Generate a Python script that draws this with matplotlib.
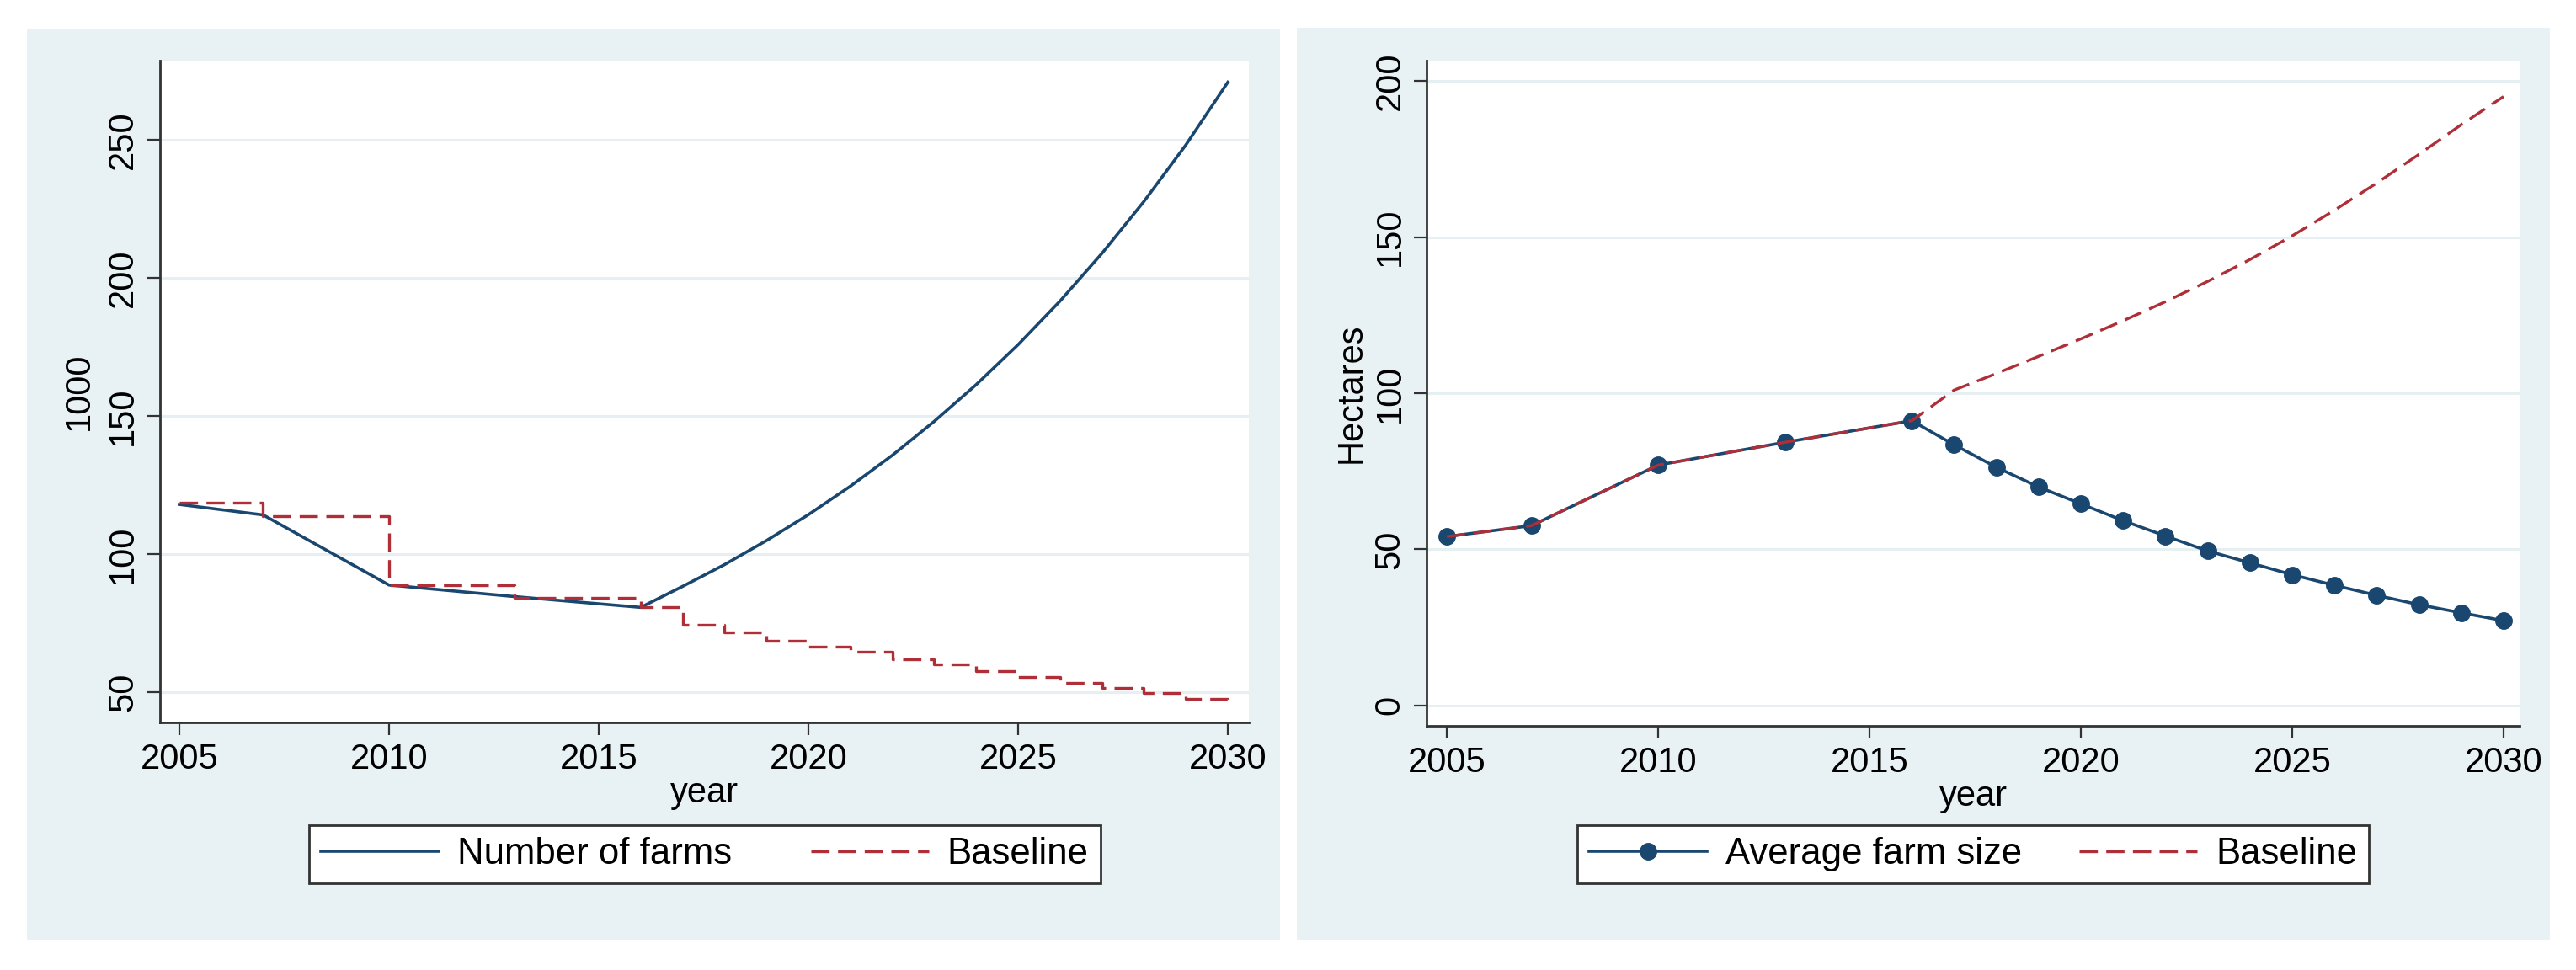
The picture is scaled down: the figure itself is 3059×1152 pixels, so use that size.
import matplotlib
matplotlib.use("Agg")
import matplotlib.pyplot as plt
from matplotlib.patches import Rectangle

plt.rcParams['font.family'] = ['Liberation Sans', 'DejaVu Sans']

# ---- data ----
years = [2005, 2007, 2010, 2013, 2016, 2017, 2018, 2019, 2020, 2021, 2022,
         2023, 2024, 2025, 2026, 2027, 2028, 2029, 2030]

# left panel (1000 farms)
farms = [118.0, 114.2, 88.8, 84.6, 80.7, 88.3, 96.2, 104.9, 114.3, 124.6, 135.8,
         148.1, 161.4, 175.9, 191.7, 209.0, 227.8, 248.3, 271.0]
farms_base = [118.6, 113.8, 88.8, 84.3, 80.8, 74.4, 71.5, 68.6, 66.5, 64.6, 62.0,
              60.0, 57.7, 55.4, 53.4, 51.6, 49.6, 47.6, 47.0]

# right panel (hectares)
avg_size = [54.1, 57.6, 77.0, 84.3, 91.2, 83.5, 76.3, 70.0, 64.6, 59.2, 54.3,
            49.5, 45.7, 41.9, 38.5, 35.3, 32.3, 29.7, 27.2]
size_base = [54.1, 57.6, 77.0, 84.3, 91.2, 101.0, 106.3, 111.8, 117.4, 123.2, 129.3,
             135.8, 142.8, 150.4, 158.6, 167.3, 176.5, 186.0, 195.0]

xticks = [2005, 2010, 2015, 2020, 2025, 2030]
left_yticks = [50, 100, 150, 200, 250]
right_yticks = [0, 50, 100, 150, 200]

NAVY = "#1a476f"
RED = "#ae2f38"
BG = "#e8f1f3"
GRID = "#e6eff1"
AX = "#333333"
FS = 30
LEG_FS = 31.5
DASH = (0, (6.5, 3))

fig = plt.figure(figsize=(30.59, 11.52), dpi=100, facecolor="white")

# panel backgrounds
fig.add_artist(Rectangle((0.0105, 0.031), 0.4864, 0.9392, transform=fig.transFigure,
                         facecolor=BG, edgecolor="none", zorder=0))
fig.add_artist(Rectangle((0.5034, 0.031), 0.4864, 0.9400, transform=fig.transFigure,
                         facecolor=BG, edgecolor="none", zorder=0))

ax1 = fig.add_axes([0.0621, 0.2552, 0.4227, 0.6823])
ax2 = fig.add_axes([0.5538, 0.2517, 0.4243, 0.6858])


def style(ax, yticks):
    ax.set_facecolor("white")
    for s in ["top", "right"]:
        ax.spines[s].set_visible(False)
    for s in ["left", "bottom"]:
        ax.spines[s].set_color(AX)
        ax.spines[s].set_linewidth(2.0)
    ax.set_xticks(xticks)
    ax.set_yticks(yticks)
    ax.tick_params(axis="both", labelsize=FS, length=11, width=1.6, color=AX, pad=6)
    for lab in ax.get_yticklabels():
        lab.set_rotation(90)
        lab.set_va("center")
    ax.yaxis.grid(True, color=GRID, linewidth=2.2)
    ax.set_axisbelow(True)
    ax.set_xlabel("year", fontsize=FS, labelpad=0)


style(ax1, left_yticks)
ax1.plot(years, farms, color=NAVY, lw=2.6, label="Number of farms")
ax1.plot(years, farms_base, color=RED, lw=2.4, ls=DASH, drawstyle="steps-post",
         label="Baseline")
ax1.set_xlim(2004.54, 2030.5)
ax1.set_ylim(39.0, 278.8)
ax1.set_ylabel("1000", fontsize=FS, labelpad=9)

style(ax2, right_yticks)
ax2.plot(years, avg_size, color=NAVY, lw=2.6, marker="o", markersize=14,
         label="Average farm size")
ax2.plot(years, size_base, color=RED, lw=2.4, ls=DASH, label="Baseline")
ax2.set_xlim(2004.52, 2030.38)
ax2.set_ylim(-6.5, 206.5)
ax2.set_ylabel("Hectares", fontsize=FS, labelpad=4)

for ax, cx, cs in [(ax1, 0.2735, 2.15), (ax2, 0.7660, 1.55)]:
    leg = ax.legend(loc="center", bbox_to_anchor=(cx, 0.1195), bbox_transform=fig.transFigure,
                    ncol=2, fontsize=LEG_FS, frameon=True, fancybox=False, framealpha=1,
                    edgecolor=AX, handlelength=3.2, handletextpad=0.5,
                    columnspacing=cs, borderpad=0.32, borderaxespad=0)
    leg.get_frame().set_linewidth(2.0)

fig.savefig("out.png", dpi=100, facecolor="white")
